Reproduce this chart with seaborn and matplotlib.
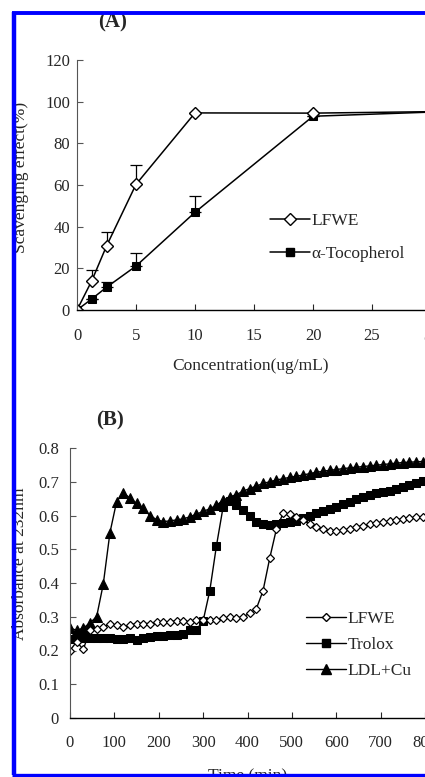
import numpy as np
import pandas as pd
import matplotlib
matplotlib.use("Agg")
import matplotlib.pyplot as plt
from matplotlib.lines import Line2D
import seaborn as sns

# Panel A: DPPH scavenging effect
conc = [0, 1.25, 2.5, 5, 10, 20, 30]
lfwe_a = [0, 14.0, 30.7, 60.3, 94.6, 94.5, 95.2]
lfwe_a_err = [0, 5.2, 6.8, 9.2, 0, 0, 0]
toco_a = [0, 5.3, 10.9, 21.1, 46.9, 93.0, 95.0]
toco_a_err = [0, 0, 2.5, 6.4, 8.0, 0, 0]

# Panel B: conjugated diene formation
time_min = [0, 15, 30, 45, 60, 75, 90, 105, 120, 135, 150, 165, 180, 195,
            210, 225, 240, 255, 270, 285, 300, 315, 330, 345, 360, 375, 390,
            405, 420, 435, 450, 465, 480, 495, 510, 525, 540, 555, 570, 585,
            600, 615, 630, 645, 660, 675, 690, 705, 720, 735, 750, 765, 780, 795]
lfwe_b = [0.200, 0.226, 0.203, 0.262, 0.265, 0.270, 0.278, 0.275, 0.270, 0.275,
          0.280, 0.280, 0.280, 0.284, 0.283, 0.285, 0.288, 0.288, 0.285, 0.290,
          0.290, 0.290, 0.291, 0.295, 0.298, 0.296, 0.300, 0.310, 0.324, 0.377,
          0.473, 0.559, 0.606, 0.603, 0.597, 0.588, 0.574, 0.566, 0.559, 0.555,
          0.553, 0.557, 0.560, 0.566, 0.570, 0.574, 0.578, 0.580, 0.584, 0.587,
          0.590, 0.593, 0.595, 0.595]
trolox_b = [0.234, 0.236, 0.236, 0.236, 0.238, 0.237, 0.236, 0.233, 0.234, 0.236,
            0.231, 0.238, 0.240, 0.243, 0.244, 0.246, 0.246, 0.249, 0.260, 0.262,
            0.288, 0.377, 0.510, 0.625, 0.643, 0.632, 0.615, 0.598, 0.582, 0.575,
            0.572, 0.574, 0.578, 0.580, 0.584, 0.592, 0.598, 0.606, 0.614, 0.620,
            0.626, 0.634, 0.641, 0.649, 0.655, 0.661, 0.666, 0.670, 0.674, 0.678,
            0.683, 0.690, 0.695, 0.702]
ldl_b = [0.266, 0.260, 0.266, 0.282, 0.300, 0.397, 0.549, 0.641, 0.667, 0.652,
         0.636, 0.621, 0.600, 0.588, 0.582, 0.584, 0.587, 0.590, 0.596, 0.604,
         0.612, 0.620, 0.630, 0.645, 0.655, 0.662, 0.672, 0.680, 0.687, 0.695,
         0.700, 0.705, 0.709, 0.713, 0.716, 0.720, 0.724, 0.728, 0.731, 0.734,
         0.736, 0.739, 0.741, 0.743, 0.745, 0.747, 0.749, 0.751, 0.753, 0.755,
         0.757, 0.758, 0.759, 0.760]

sns.set_style("white")
plt.rcParams['font.family'] = ['Liberation Serif', 'DejaVu Serif']
plt.rcParams['font.size'] = 12

fig = plt.figure(figsize=(4.25, 7.77), dpi=100)
W, H = 425, 777

def px_axes(x0, x1, y_bottom, y_top):
    return fig.add_axes([x0 / W, (H - y_bottom) / H, (x1 - x0) / W, (y_bottom - y_top) / H])

def style_axes(ax, xpad, ypad):
    for s in ['top', 'right']:
        ax.spines[s].set_visible(False)
    ax.spines['left'].set_color('#555555')
    ax.spines['left'].set_linewidth(0.8)
    ax.spines['bottom'].set_color('black')
    ax.spines['bottom'].set_linewidth(1.0)
    ax.tick_params(axis='x', direction='in', length=4, width=0.8, pad=xpad, labelsize=12)
    ax.tick_params(axis='y', direction='in', length=4, width=0.8, pad=ypad, labelsize=12,
                   color='#555555')
    ax.tick_params(bottom=True, left=True)

# ---- panel A ----
axA = px_axes(77, 431, 310, 60)
dfA = pd.DataFrame({'conc': conc, 'lfwe': lfwe_a, 'toco': toco_a})
axA.errorbar(conc, lfwe_a, yerr=[np.zeros(len(lfwe_a)), lfwe_a_err], fmt='none',
             ecolor='black', elinewidth=0.9, capsize=4, capthick=0.9, zorder=2)
axA.errorbar(conc, toco_a, yerr=[np.zeros(len(toco_a)), toco_a_err], fmt='none',
             ecolor='black', elinewidth=0.9, capsize=4, capthick=0.9, zorder=2)
sns.lineplot(data=dfA, x='conc', y='toco', ax=axA, color='black', lw=1.1,
             marker='s', markersize=6, markerfacecolor='black', markeredgecolor='black')
sns.lineplot(data=dfA, x='conc', y='lfwe', ax=axA, color='black', lw=1.1,
             marker='D', markersize=6.5, markerfacecolor='white', markeredgecolor='black',
             markeredgewidth=1.0)
axA.set_xlim(0, 30)
axA.set_ylim(0, 120)
axA.set_xticks([0, 5, 10, 15, 20, 25, 30])
axA.set_yticks([0, 20, 40, 60, 80, 100, 120])
style_axes(axA, 13, 5)
axA.set_xlabel('Concentration(ug/mL)', fontsize=12.5)
axA.set_ylabel('Scavenging effect(%)', fontsize=12.5)
axA.xaxis.set_label_coords(0.49, -0.19)
axA.yaxis.set_label_coords(-0.135, 0.53)
handlesA = [Line2D([], [], color='black', lw=1.1, marker='D', markersize=6.5,
                   markerfacecolor='white', markeredgecolor='black'),
            Line2D([], [], color='black', lw=1.1, marker='s', markersize=6,
                   markerfacecolor='black')]
axA.legend(handlesA, ['LFWE', 'α-Tocopherol'], frameon=False, loc='center left',
           bbox_to_anchor=(0.50, 0.29), handlelength=2.3, handletextpad=0.1,
           labelspacing=0.95, fontsize=12.5)
fig.text(113 / W, 1 - 22 / H, '(A)', ha='center', va='center', fontweight='bold', fontsize=15)

# ---- panel B ----
axB = px_axes(70, 425, 718, 448)
dfB = pd.DataFrame({'t': time_min, 'lfwe': lfwe_b, 'trolox': trolox_b, 'ldl': ldl_b})
sns.lineplot(data=dfB, x='t', y='ldl', ax=axB, color='black', lw=1.0,
             marker='^', markersize=6.5, markerfacecolor='black', markeredgecolor='black')
sns.lineplot(data=dfB, x='t', y='trolox', ax=axB, color='black', lw=1.0,
             marker='s', markersize=5.5, markerfacecolor='black', markeredgecolor='black')
sns.lineplot(data=dfB, x='t', y='lfwe', ax=axB, color='black', lw=1.0,
             marker='D', markersize=4.5, markerfacecolor='white', markeredgecolor='black',
             markeredgewidth=0.9)
axB.set_xlim(0, 800)
axB.set_ylim(0, 0.8)
axB.set_xticks([0, 100, 200, 300, 400, 500, 600, 700, 800])
axB.set_yticks([0, 0.1, 0.2, 0.3, 0.4, 0.5, 0.6, 0.7, 0.8])
axB.set_yticklabels(['0', '0.1', '0.2', '0.3', '0.4', '0.5', '0.6', '0.7', '0.8'])
style_axes(axB, 12, 8)
axB.set_xlabel('Time (min)', fontsize=12.5)
axB.set_ylabel('Absorbance at 232nm', fontsize=12.5)
axB.xaxis.set_label_coords(0.5, -0.185)
axB.yaxis.set_label_coords(-0.118, 0.57)
handlesB = [Line2D([], [], color='black', lw=1.0, marker='D', markersize=4.5,
                   markerfacecolor='white', markeredgecolor='black'),
            Line2D([], [], color='black', lw=1.0, marker='s', markersize=5.5,
                   markerfacecolor='black'),
            Line2D([], [], color='black', lw=1.0, marker='^', markersize=6.5,
                   markerfacecolor='black')]
axB.legend(handlesB, ['LFWE', 'Trolox', 'LDL+Cu'], frameon=False, loc='center left',
           bbox_to_anchor=(0.62, 0.27), handlelength=2.3, handletextpad=0.1,
           labelspacing=0.55, fontsize=12.5)
fig.text(110 / W, 1 - 420 / H, '(B)', ha='center', va='center', fontweight='bold', fontsize=15)

# blue frame on left, top and bottom
blue = '#0000ff'
fig.add_artist(Line2D([14 / W, 14 / W], [2 / H, 1 - 12 / H], color=blue, lw=3.2,
                      transform=fig.transFigure, zorder=10, solid_capstyle='butt'))
fig.add_artist(Line2D([12 / W, 1.0], [1 - 13 / H, 1 - 13 / H], color=blue, lw=2.8,
                      transform=fig.transFigure, zorder=10, solid_capstyle='butt'))
fig.add_artist(Line2D([12 / W, 1.0], [2 / H, 2 / H], color=blue, lw=2.4,
                      transform=fig.transFigure, zorder=10, solid_capstyle='butt'))

fig.savefig('out.png', dpi=100)
